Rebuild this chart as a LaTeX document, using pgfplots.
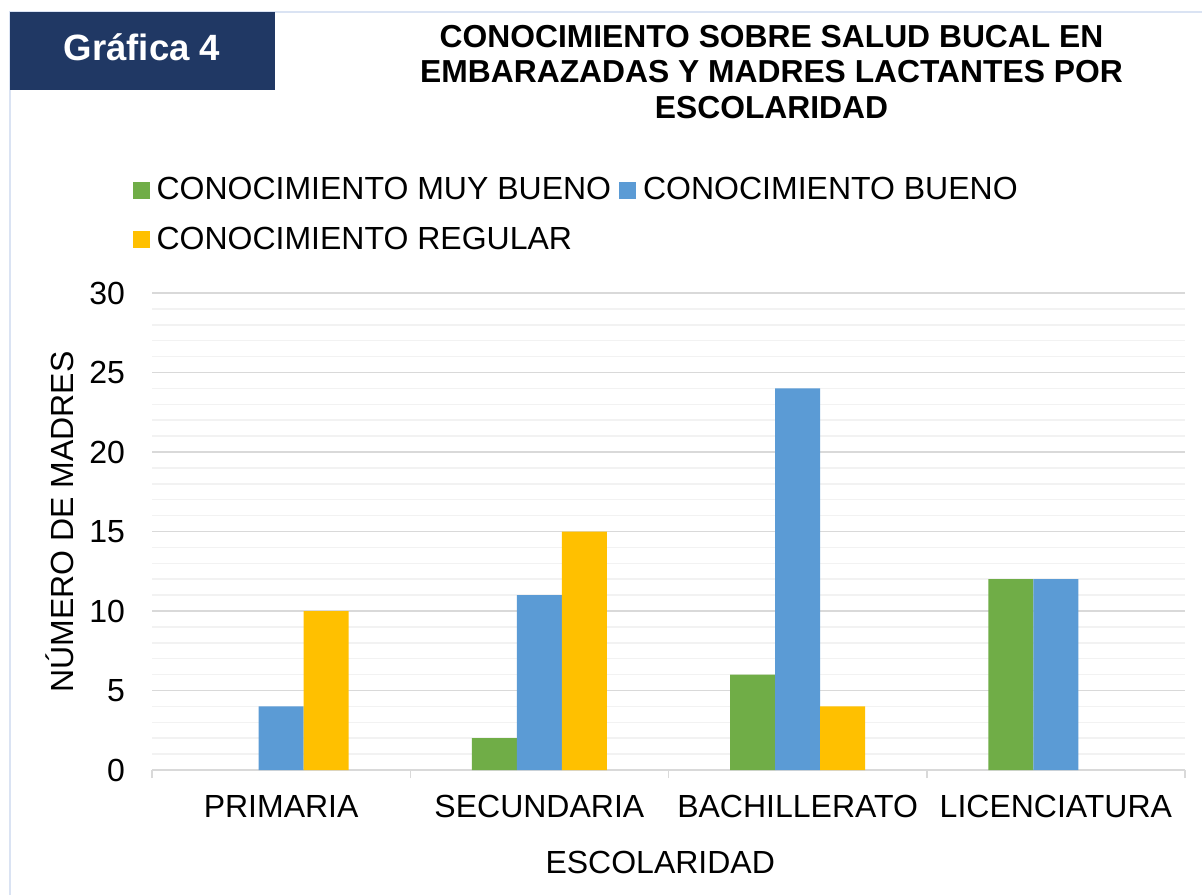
\documentclass[border=0pt]{standalone}
\usepackage{fontspec}
\setmainfont{Liberation Sans}
\usepackage{pgfplots}
\pgfplotsset{compat=1.18}
\definecolor{cgreen}{HTML}{70AD47}
\definecolor{cblue}{HTML}{5B9BD5}
\definecolor{cyellow}{HTML}{FFC000}
\definecolor{navy}{HTML}{203864}
\definecolor{framec}{HTML}{DAE3F3}
\definecolor{majorc}{HTML}{D9D9D9}
\definecolor{minorc}{HTML}{F2F2F2}
\begin{document}
\begin{tikzpicture}
\useasboundingbox[fill=white] (0,0) rectangle (601pt,447.5pt);
\draw[framec, line width=1pt] (5pt,0) -- (5pt,441.5pt) -- (601pt,441.5pt);
\fill[navy] (5pt,402.5pt) rectangle (137.5pt,441.5pt);
\node[white, font=\fontsize{18.3}{22}\selectfont\bfseries] at (71pt,424pt) {Gráfica 4};
\node[align=center, font=\fontsize{15.9}{17.75}\selectfont\bfseries] at (385.75pt,411.5pt) {CONOCIMIENTO SOBRE SALUD BUCAL EN\\EMBARAZADAS Y MADRES LACTANTES POR\\ESCOLARIDAD};
\begin{axis}[at={(76pt,62.5pt)}, anchor=south west, scale only axis,
  width=516.5pt, height=238.5pt,
  xmin=-0.5, xmax=3.5, ymin=0, ymax=30,
  ybar, bar width=22.5pt,
  xtick={0,1,2,3},
  xticklabels={PRIMARIA,SECUNDARIA,BACHILLERATO,LICENCIATURA},
  minor xtick={-0.5,0.5,1.5,2.5,3.5},
  ytick={0,5,...,30}, minor y tick num=4,
  ymajorgrids, yminorgrids,
  major grid style={majorc, line width=0.75pt},
  minor grid style={minorc, line width=0.75pt},
  separate axis lines,
  axis x line*=bottom, axis y line*=left,
  y axis line style={draw=none},
  x axis line style={majorc, line width=0.75pt},
  tick align=outside,
  major tick length=0pt, minor tick length=4pt,
  minor x tick style={majorc, line width=0.75pt},
  major tick style={draw=none},
  minor y tick style={draw=none},
  ticklabel style={font=\fontsize{16}{18}\selectfont},
  /pgf/number format/assume math mode=true,
  yticklabel style={xshift=-10pt},
  xticklabel style={yshift=-9pt},
  xlabel={ESCOLARIDAD}, ylabel={NÚMERO DE MADRES},
  label style={font=\fontsize{16}{18}\selectfont},
  xlabel style={at={(axis description cs:0.492,-0.193)}, anchor=center},
  ylabel style={at={(axis description cs:-0.089,0.52)}, anchor=center, rotate=0},
  legend columns=2,
  legend cell align=left,
  legend style={at={(axis description cs:-0.025,1.26)}, anchor=north west, draw=none, fill=none,
    font=\fontsize{16}{18}\selectfont, row sep=8pt,
    /tikz/every odd column/.append style={column sep=1.5pt},
    /tikz/every even column/.append style={column sep=2pt}},
  legend image code/.code={\fill[#1, draw=none] (0pt,-4.25pt) rectangle (8.5pt,4.25pt);},
]
% zero values (PRIMARIA muy bueno, LICENCIATURA regular) are not drawn
\addplot[fill=cgreen, draw=none, bar shift=-22.5pt] coordinates {(1,2) (2,6) (3,12)};
\addplot[fill=cblue, draw=none, bar shift=0pt] coordinates {(0,4) (1,11) (2,24) (3,12)};
\addplot[fill=cyellow, draw=none, bar shift=22.5pt] coordinates {(0,10) (1,15) (2,4)};
\legend{CONOCIMIENTO MUY BUENO, CONOCIMIENTO BUENO, CONOCIMIENTO REGULAR}
\end{axis}
\end{tikzpicture}
\end{document}
